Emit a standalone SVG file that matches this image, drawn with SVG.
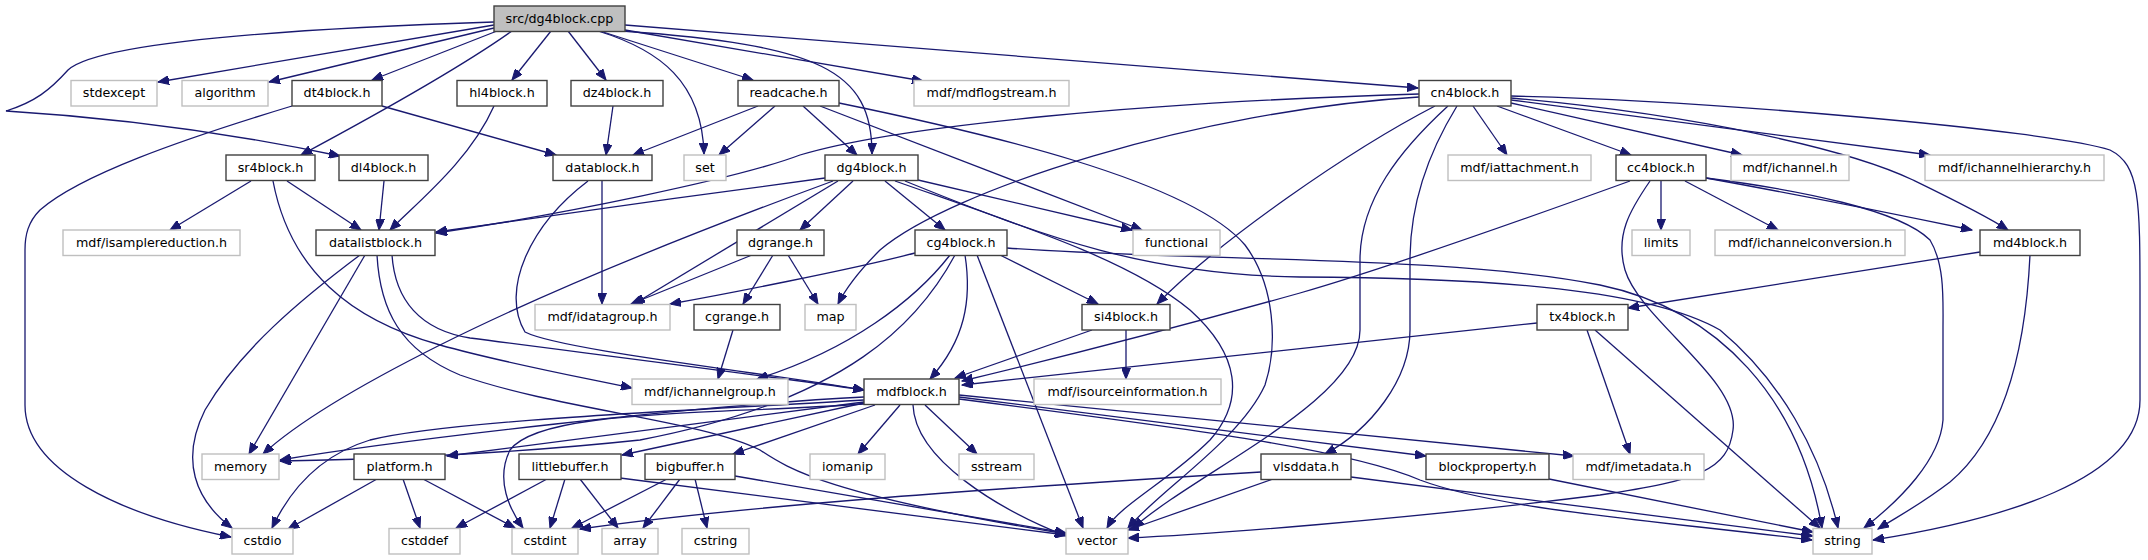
<svg xmlns="http://www.w3.org/2000/svg" width="2148" height="560" viewBox="0 0 2148 560">
<style>
.n rect{fill:#ffffff;stroke:#404040;stroke-width:1.4}
.n.x rect{stroke:#bfbfbf}
.n.r rect{fill:#bfbfbf}
.n text{font-family:"DejaVu Sans","Liberation Sans",sans-serif;font-size:12.7px;fill:#000;text-anchor:middle}
.e path{fill:none;stroke:#191970;stroke-width:1.3;marker-end:url(#ah)}
</style>
<defs>
<marker id="ah" markerWidth="12" markerHeight="9" refX="11" refY="4.5" orient="auto" markerUnits="userSpaceOnUse">
<path d="M0,0 L11,4.5 L0,9 z" fill="#191970" stroke="#191970" stroke-width="1"/>
</marker>
</defs>
<rect x="0" y="0" width="2148" height="560" fill="#ffffff"/>
<g id="edges" class="e">
<!-- root -->
<path d="M494,25 L158,82"/>
<path d="M494,28 L269,82"/>
<path d="M497,31 L372,80"/>
<path d="M512,31 C 460,68 370,118 301,155"/>
<path d="M494,22 C 250,30 95,45 68,70 C 50,90 35,102 6,111 C 120,118 240,135 340,156"/>
<path d="M551,31 L512,80"/>
<path d="M568,31 L606,80"/>
<path d="M598,31 C 660,50 702,82 704,154"/>
<path d="M600,31 L753,80"/>
<path d="M625,30 L923,81"/>
<path d="M625,25 L1418,88"/>
<path d="M622,31 C 820,45 872,70 872,154"/>
<!-- dt4block -->
<path d="M382,106 L556,155"/>
<path d="M292,106 C 180,140 80,175 40,210 C 28,222 25,235 25,250 L25,405 C 25,470 120,515 231,537"/>
<!-- hl4block, dz4block, dl4block -->
<path d="M494,106 C 470,160 420,200 390,230"/>
<path d="M613,106 L606,155"/>
<path d="M384,181 L379,230"/>
<!-- readcache -->
<path d="M758,106 L633,155"/>
<path d="M775,106 L719,155"/>
<path d="M803,106 L857,155"/>
<path d="M820,106 L1142,230"/>
<path d="M839,103 C 980,132 1190,180 1245,245 C 1275,285 1278,345 1265,385 C 1240,440 1160,490 1128,528"/>
<!-- sr4block -->
<path d="M251,181 L170,230"/>
<path d="M287,181 L361,230"/>
<path d="M273,181 C 290,270 350,320 440,345 C 500,362 570,375 632,388"/>
<!-- datablock -->
<path d="M602,181 L602,304"/>
<path d="M588,181 C 530,225 500,290 525,332 C 560,350 760,372 864,390"/>
<!-- dg4block -->
<path d="M825,178 C 700,195 500,222 436,232"/>
<path d="M853,181 L800,230"/>
<path d="M885,181 L945,230"/>
<path d="M838,181 L634,304"/>
<path d="M833,181 C 700,230 560,285 440,345 C 360,385 300,420 263,454"/>
<path d="M918,180 L1132,230"/>
<path d="M905,181 C 1050,240 1150,275 1300,277 C 1500,278 1650,290 1720,330 C 1780,380 1820,450 1838,528"/>
<path d="M895,181 C 1020,225 1130,260 1190,310 C 1240,355 1245,400 1210,440 C 1170,480 1120,505 1107,528"/>
<!-- cn4block -->
<path d="M1419,94 C 1150,102 900,125 800,155 C 740,178 560,215 436,233"/>
<path d="M1419,97 C 1200,110 950,190 880,250 C 860,270 845,290 838,304"/>
<path d="M1435,106 C 1350,150 1220,240 1157,304"/>
<path d="M1448,106 C 1400,150 1360,200 1360,260 L1360,330 C 1360,400 1200,470 1133,528"/>
<path d="M1457,106 C 1430,150 1410,200 1410,260 L1410,330 C 1410,380 1370,430 1325,454"/>
<path d="M1473,106 L1507,155"/>
<path d="M1497,106 L1631,155"/>
<path d="M1511,103 L1742,155"/>
<path d="M1511,100 L1930,155"/>
<path d="M1511,98 C 1700,115 1850,150 1913,180 C 1950,198 1985,215 2008,230"/>
<path d="M1511,96 C 1700,100 2050,130 2110,150 C 2140,165 2140,200 2140,300 L2140,400 C 2140,480 2000,520 1873,540"/>
<!-- cc4block -->
<path d="M1661,181 L1661,230"/>
<path d="M1685,181 L1778,230"/>
<path d="M1706,178 C 1800,195 1900,215 1972,230"/>
<path d="M1706,178 C 1800,190 1900,210 1930,240 C 1945,265 1943,300 1943,330 L1943,420 C 1940,460 1900,500 1864,528"/>
<path d="M1650,181 C 1630,210 1615,235 1625,270 C 1640,320 1740,380 1733,430 C 1728,470 1700,480 1600,495 C 1400,520 1200,535 1128,538"/>
<path d="M1630,181 C 1500,228 1380,270 1300,293 C 1150,335 1050,360 962,381"/>
<!-- md4block -->
<path d="M1980,252 L1628,308"/>
<path d="M2030,255 C 2025,360 2000,440 1950,482 C 1920,505 1900,515 1878,529"/>
<!-- tx4block -->
<path d="M1537,323 L962,385"/>
<path d="M1587,330 L1630,454"/>
<path d="M1595,330 L1820,528"/>
<!-- si4block -->
<path d="M1092,330 L955,378"/>
<path d="M1126,330 L1126,379"/>
<!-- cg4block -->
<path d="M915,253 C 850,270 720,295 670,304"/>
<path d="M950,255 C 915,300 850,350 757,379"/>
<path d="M955,255 C 920,320 850,400 640,440 C 500,455 350,460 280,461"/>
<path d="M965,255 C 972,300 965,340 930,379"/>
<path d="M977,255 L1083,528"/>
<path d="M1000,255 L1098,304"/>
<path d="M1007,248 C 1200,262 1450,255 1600,285 C 1720,310 1800,400 1822,528"/>
<!-- dgrange, cgrange -->
<path d="M752,255 L631,304"/>
<path d="M773,255 L743,304"/>
<path d="M788,255 L818,304"/>
<path d="M733,330 L718,379"/>
<!-- mdfblock -->
<path d="M864,397 C 700,405 400,440 280,460"/>
<path d="M864,400 C 700,410 450,420 370,440 C 320,455 290,490 272,528"/>
<path d="M864,402 L447,456"/>
<path d="M864,403 L622,455"/>
<path d="M875,405 L733,454"/>
<path d="M900,405 L858,454"/>
<path d="M925,405 L977,454"/>
<path d="M913,405 C 915,460 1000,510 1066,536"/>
<path d="M864,404 C 700,415 540,410 510,450 C 495,480 510,510 523,528"/>
<path d="M959,397 L1426,456"/>
<path d="M959,395 L1574,456"/>
<path d="M959,399 C 1200,430 1350,450 1420,480 C 1500,510 1650,520 1812,540"/>
<!-- datalistblock -->
<path d="M365,255 L249,454"/>
<path d="M360,255 C 300,300 240,350 205,410 C 180,460 195,500 232,528"/>
<path d="M377,255 C 380,310 400,350 460,375 C 560,410 700,420 760,450 C 790,470 830,495 1066,534"/>
<path d="M392,255 C 395,300 420,330 470,338 C 600,355 760,375 864,390"/>
<!-- platform, littlebuffer, bigbuffer -->
<path d="M377,479 L288,529"/>
<path d="M403,479 L420,528"/>
<path d="M423,479 L515,528"/>
<path d="M547,479 L456,528"/>
<path d="M565,479 L550,528"/>
<path d="M580,479 L618,528"/>
<path d="M620,478 L1066,535"/>
<path d="M667,479 L572,528"/>
<path d="M680,479 L643,528"/>
<path d="M695,479 L707,528"/>
<path d="M735,476 L1066,533"/>
<!-- vlsddata, blockproperty -->
<path d="M1261,472 C 1000,488 750,505 580,529"/>
<path d="M1273,479 L1128,530"/>
<path d="M1351,477 L1813,536"/>
<path d="M1549,479 L1813,532"/>
</g>
<g id="n_root" class="n r"><rect x="494" y="6" width="131" height="25.5"/><text x="559.5" y="22.5">src/dg4block.cpp</text></g>
<g id="n_stdexcept" class="n x"><rect x="71" y="80.5" width="86" height="25.5"/><text x="114" y="97">stdexcept</text></g>
<g id="n_algorithm" class="n x"><rect x="182" y="80.5" width="86" height="25.5"/><text x="225" y="97">algorithm</text></g>
<g id="n_dt4block" class="n"><rect x="292" y="80.5" width="90" height="25.5"/><text x="337" y="97">dt4block.h</text></g>
<g id="n_hl4block" class="n"><rect x="457" y="80.5" width="90" height="25.5"/><text x="502" y="97">hl4block.h</text></g>
<g id="n_dz4block" class="n"><rect x="571" y="80.5" width="92" height="25.5"/><text x="617" y="97">dz4block.h</text></g>
<g id="n_readcache" class="n"><rect x="738" y="80.5" width="101" height="25.5"/><text x="788.5" y="97">readcache.h</text></g>
<g id="n_mdflogstream" class="n x"><rect x="914" y="80.5" width="155" height="25.5"/><text x="991.5" y="97">mdf/mdflogstream.h</text></g>
<g id="n_cn4block" class="n"><rect x="1419" y="80.5" width="92" height="25.5"/><text x="1465" y="97">cn4block.h</text></g>
<g id="n_sr4block" class="n"><rect x="226" y="155" width="89" height="25.5"/><text x="270.5" y="171.5">sr4block.h</text></g>
<g id="n_dl4block" class="n"><rect x="339" y="155" width="89" height="25.5"/><text x="383.5" y="171.5">dl4block.h</text></g>
<g id="n_datablock" class="n"><rect x="553" y="155" width="99" height="25.5"/><text x="602.5" y="171.5">datablock.h</text></g>
<g id="n_set" class="n x"><rect x="684" y="155" width="42" height="25.5"/><text x="705" y="171.5">set</text></g>
<g id="n_dg4block" class="n"><rect x="825" y="155" width="93" height="25.5"/><text x="871.5" y="171.5">dg4block.h</text></g>
<g id="n_iattachment" class="n x"><rect x="1448" y="155" width="143" height="25.5"/><text x="1519.5" y="171.5">mdf/iattachment.h</text></g>
<g id="n_cc4block" class="n"><rect x="1616" y="155" width="90" height="25.5"/><text x="1661" y="171.5">cc4block.h</text></g>
<g id="n_ichannel" class="n x"><rect x="1731" y="155" width="118" height="25.5"/><text x="1790" y="171.5">mdf/ichannel.h</text></g>
<g id="n_ichannelhierarchy" class="n x"><rect x="1925" y="155" width="179" height="25.5"/><text x="2014.5" y="171.5">mdf/ichannelhierarchy.h</text></g>
<g id="n_isamplereduction" class="n x"><rect x="63" y="230" width="177" height="25.5"/><text x="151.5" y="246.5">mdf/isamplereduction.h</text></g>
<g id="n_datalistblock" class="n"><rect x="316" y="230" width="119" height="25.5"/><text x="375.5" y="246.5">datalistblock.h</text></g>
<g id="n_dgrange" class="n"><rect x="737" y="230" width="87" height="25.5"/><text x="780.5" y="246.5">dgrange.h</text></g>
<g id="n_cg4block" class="n"><rect x="915" y="230" width="92" height="25.5"/><text x="961" y="246.5">cg4block.h</text></g>
<g id="n_functional" class="n x"><rect x="1133" y="230" width="87" height="25.5"/><text x="1176.5" y="246.5">functional</text></g>
<g id="n_limits" class="n x"><rect x="1632" y="230" width="58" height="25.5"/><text x="1661" y="246.5">limits</text></g>
<g id="n_ichannelconversion" class="n x"><rect x="1715" y="230" width="190" height="25.5"/><text x="1810" y="246.5">mdf/ichannelconversion.h</text></g>
<g id="n_md4block" class="n"><rect x="1980" y="230" width="100" height="25.5"/><text x="2030" y="246.5">md4block.h</text></g>
<g id="n_idatagroup" class="n x"><rect x="535" y="304.5" width="135" height="25.5"/><text x="602.5" y="321">mdf/idatagroup.h</text></g>
<g id="n_cgrange" class="n"><rect x="694" y="304.5" width="86" height="25.5"/><text x="737" y="321">cgrange.h</text></g>
<g id="n_map" class="n x"><rect x="805" y="304.5" width="51" height="25.5"/><text x="830.5" y="321">map</text></g>
<g id="n_si4block" class="n"><rect x="1082" y="304.5" width="88" height="25.5"/><text x="1126" y="321">si4block.h</text></g>
<g id="n_tx4block" class="n"><rect x="1537" y="304.5" width="91" height="25.5"/><text x="1582.5" y="321">tx4block.h</text></g>
<g id="n_ichannelgroup" class="n x"><rect x="632" y="379" width="156" height="25.5"/><text x="710" y="395.5">mdf/ichannelgroup.h</text></g>
<g id="n_mdfblock" class="n"><rect x="864" y="379" width="95" height="25.5"/><text x="911.5" y="395.5">mdfblock.h</text></g>
<g id="n_isourceinformation" class="n x"><rect x="1034" y="379" width="187" height="25.5"/><text x="1127.5" y="395.5">mdf/isourceinformation.h</text></g>
<g id="n_memory" class="n x"><rect x="202" y="454" width="77" height="25.5"/><text x="240.5" y="470.5">memory</text></g>
<g id="n_platform" class="n"><rect x="354" y="454" width="91" height="25.5"/><text x="399.5" y="470.5">platform.h</text></g>
<g id="n_littlebuffer" class="n"><rect x="519" y="454" width="102" height="25.5"/><text x="570" y="470.5">littlebuffer.h</text></g>
<g id="n_bigbuffer" class="n"><rect x="645" y="454" width="90" height="25.5"/><text x="690" y="470.5">bigbuffer.h</text></g>
<g id="n_iomanip" class="n x"><rect x="810" y="454" width="75" height="25.5"/><text x="847.5" y="470.5">iomanip</text></g>
<g id="n_sstream" class="n x"><rect x="959" y="454" width="75" height="25.5"/><text x="996.5" y="470.5">sstream</text></g>
<g id="n_vlsddata" class="n"><rect x="1261" y="454" width="90" height="25.5"/><text x="1306" y="470.5">vlsddata.h</text></g>
<g id="n_blockproperty" class="n"><rect x="1426" y="454" width="123" height="25.5"/><text x="1487.5" y="470.5">blockproperty.h</text></g>
<g id="n_imetadata" class="n x"><rect x="1573" y="454" width="131" height="25.5"/><text x="1638.5" y="470.5">mdf/imetadata.h</text></g>
<g id="n_cstdio" class="n x"><rect x="232" y="528.5" width="61" height="25.5"/><text x="262.5" y="545">cstdio</text></g>
<g id="n_cstddef" class="n x"><rect x="389" y="528.5" width="71" height="25.5"/><text x="424.5" y="545">cstddef</text></g>
<g id="n_cstdint" class="n x"><rect x="512" y="528.5" width="66" height="25.5"/><text x="545" y="545">cstdint</text></g>
<g id="n_array" class="n x"><rect x="602" y="528.5" width="56" height="25.5"/><text x="630" y="545">array</text></g>
<g id="n_cstring" class="n x"><rect x="682" y="528.5" width="67" height="25.5"/><text x="715.5" y="545">cstring</text></g>
<g id="n_vector" class="n x"><rect x="1066" y="528.5" width="62" height="25.5"/><text x="1097" y="545">vector</text></g>
<g id="n_string" class="n x"><rect x="1813" y="528.5" width="59" height="25.5"/><text x="1842.5" y="545">string</text></g>
</svg>
